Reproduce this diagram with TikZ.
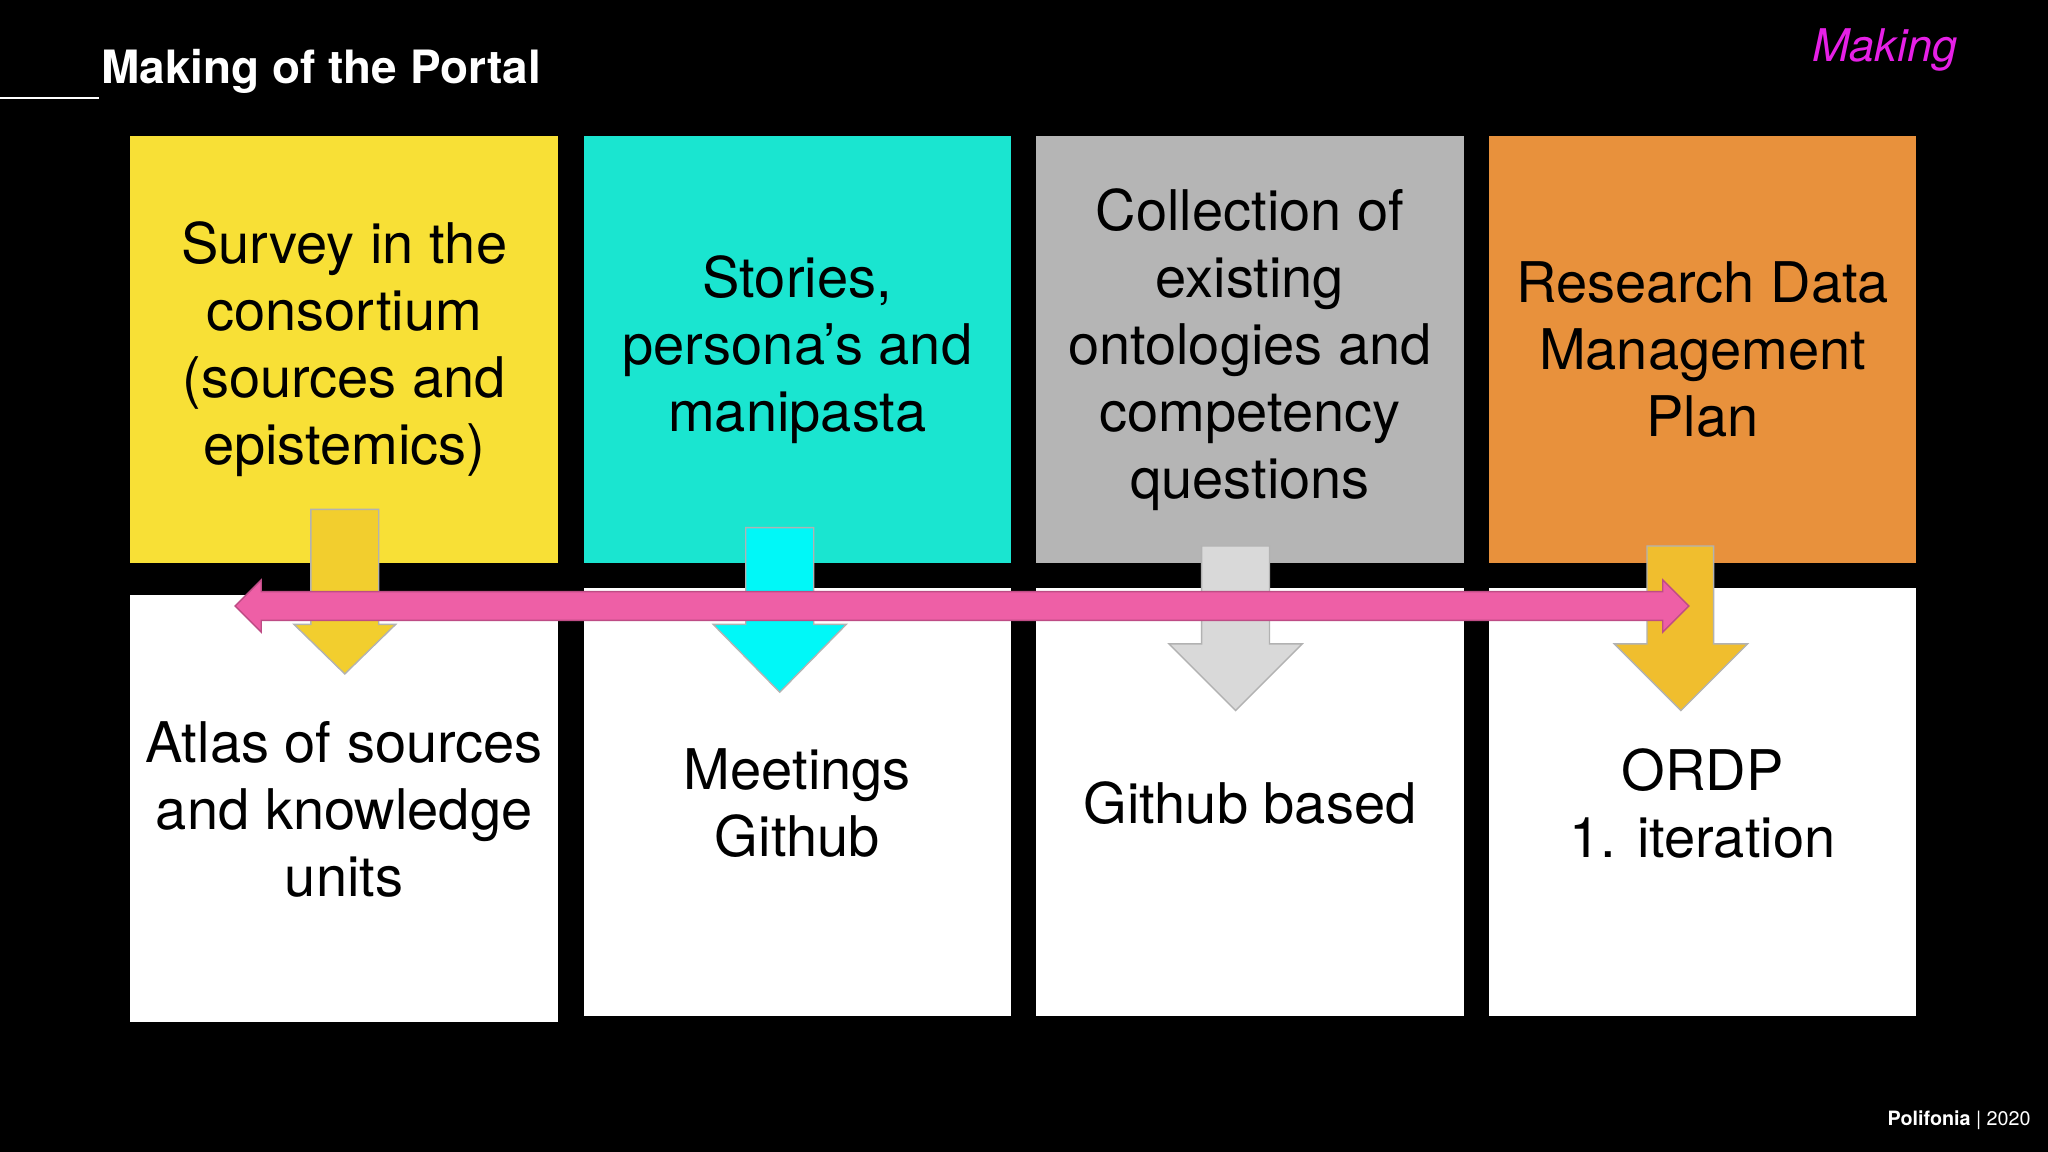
\documentclass[tikz,border=0pt]{standalone}
\usepackage{fontspec}
\setmainfont{TeX Gyre Heros}
\definecolor{survey}{HTML}{F8E036}
\definecolor{stories}{HTML}{1AE5D0}
\definecolor{collect}{HTML}{B5B5B5}
\definecolor{rdmp}{HTML}{E8913C}
\definecolor{pinkbar}{HTML}{EE5FA6}
\definecolor{makingpink}{HTML}{E620E6}
\definecolor{arrY}{HTML}{F2CE2E}
\definecolor{arrC}{HTML}{00F8F8}
\definecolor{arrO}{HTML}{F0BE2E}
\tikzset{
  tile/.style={minimum width=3.27cm, minimum height=3.27cm, inner sep=0pt, align=center,
    font=\fontsize{12.2}{14.6}\selectfont},
  downarrow/.style={draw=black!30, line width=0.3pt}
}
\begin{document}
\begin{tikzpicture}[x=0.01cm, y=-0.01cm]
\fill[black] (0,0) rectangle (1568,882);
\useasboundingbox (0,0) rectangle (1568,882);
% title
\node[anchor=west, inner sep=0pt, text=white, font=\fontsize{10}{12}\selectfont\bfseries] (title) at (77,55) {Making of the Portal};
\draw[white, line width=0.5pt] (0,75) -- (76,75);
\node[text=makingpink, font=\fontsize{9.8}{12}\selectfont\itshape] (tag) at (1443,38) {Making};
\node[text=white, font=\fontsize{4.3}{5}\selectfont] (foot) at (1500,858) {\textbf{Polifonia} | 2020};

% top row
\node[tile, fill=survey] (survey) at (263.5,267.5) {Survey in the\\consortium\\(sources and\\epistemics)};
\node[tile, fill=stories] (stories) at (610.5,267.5) {Stories,\\persona’s and\\manipasta};
\node[tile, fill=collect] (collect) at (957,267.5) {Collection of\\existing\\ontologies and\\competency\\questions};
\node[tile, fill=rdmp] (rdmp) at (1303.5,267.5) {Research Data\\Management\\Plan};

% bottom row
\node[tile, fill=white] (atlas) at (263.5,619) {};
\node[tile, fill=white] (meet) at (610.5,614) {};
\node[tile, fill=white] (github) at (957,614) {};
\node[tile, fill=white] (ordp) at (1303.5,614) {};
\node[align=center, font=\fontsize{12.2}{14.6}\selectfont] at (263.5,620) {Atlas of sources\\and knowledge\\units};
\node[align=center, font=\fontsize{12.2}{14.6}\selectfont] at (610.5,615) {Meetings\\Github};
\node[align=center, font=\fontsize{12.2}{14.6}\selectfont] at (957,615) {Github based};
\node[align=center, font=\fontsize{12.2}{14.6}\selectfont] at (1303.5,615) {ORDP\\1. iteration};

% down arrows
\draw[downarrow, fill=arrY] (238,390) -- (290,390) -- (290,478) -- (303,478) -- (264,516) -- (225,478) -- (238,478) -- cycle;
\draw[downarrow, fill=arrC] (571,404) -- (623,404) -- (623,478) -- (648,478) -- (597,530) -- (546,478) -- (571,478) -- cycle;
\draw[downarrow, fill=black!15] (920,418) -- (972,418) -- (972,493) -- (997,493) -- (946,544) -- (895,493) -- (920,493) -- cycle;
\draw[downarrow, fill=arrO] (1261,418) -- (1312,418) -- (1312,493) -- (1338,493) -- (1287,544) -- (1236,493) -- (1261,493) -- cycle;

% double arrow
\draw[draw=pinkbar!80!black, line width=0.3pt, fill=pinkbar]
  (180,464) -- (200,444) -- (200,453) -- (1273,453) -- (1273,444) -- (1293,464)
  -- (1273,484) -- (1273,475) -- (200,475) -- (200,484) -- cycle;
\end{tikzpicture}
\end{document}
